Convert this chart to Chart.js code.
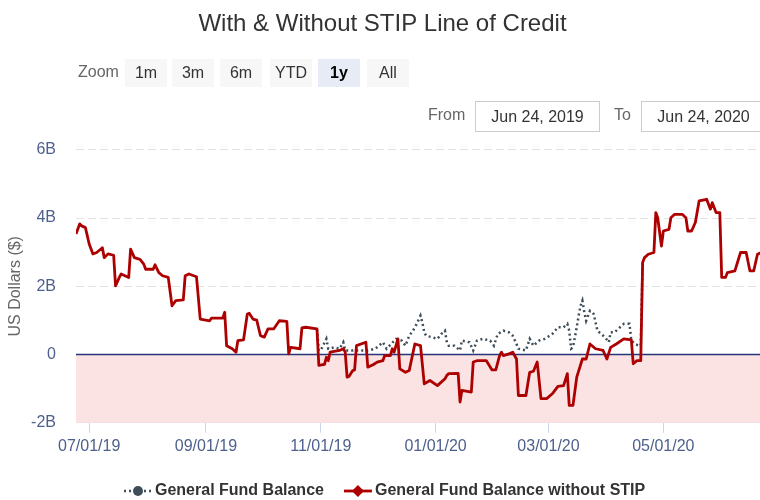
<!DOCTYPE html>
<html>
<head>
<meta charset="utf-8">
<script src="https://cdn.jsdelivr.net/npm/chart.js@4.4.1/dist/chart.umd.min.js"></script>
<style>
  html, body { margin: 0; padding: 0; overflow: hidden; background: #fff; }
  body { width: 760px; height: 500px; position: relative; font-family: 'Liberation Sans', Arial, sans-serif; }
  #wrap { position: absolute; left: 0; top: 0; width: 772px; height: 500px; }
  .lbl { position: absolute; font-size: 16px; color: #666; line-height: 20px; }
  .btn { position: absolute; top: 59px; width: 42px; height: 28px; line-height: 28px; text-align: center;
         font-size: 16px; color: #333; background: #f7f7f7; }
  .btn.on { background: #e6ebf5; color: #000; font-weight: bold; }
  .box { position: absolute; top: 101px; width: 123px; height: 29px; line-height: 29px; text-align: center;
         font-size: 16px; color: #333; border: 1px solid #ccc; background: #fff; }
</style>
</head>
<body>
<div id="wrap"><canvas id="chart"></canvas></div>
<div class="lbl" style="left:78px; top:62px;">Zoom</div>
<div class="btn" style="left:125px;">1m</div>
<div class="btn" style="left:172px;">3m</div>
<div class="btn" style="left:220px;">6m</div>
<div class="btn" style="left:270px;">YTD</div>
<div class="btn on" style="left:318px;">1y</div>
<div class="btn" style="left:367px;">All</div>
<div class="lbl" style="left:428px; top:105px;">From</div>
<div class="box" style="left:475px;">Jun 24, 2019</div>
<div class="lbl" style="left:614px; top:105px;">To</div>
<div class="box" style="left:641px;">Jun 24, 2020</div>
<script>
// General Fund Balance without STIP (billions of dollars)
const stipDates = [
  '2019-06-24','2019-06-26','2019-06-27','2019-06-29','2019-07-01','2019-07-03','2019-07-05','2019-07-08',
  '2019-07-09','2019-07-11','2019-07-14','2019-07-15','2019-07-17','2019-07-18','2019-07-22','2019-07-23',
  '2019-07-25','2019-07-28','2019-07-30','2019-07-31','2019-08-04','2019-08-05','2019-08-07','2019-08-09',
  '2019-08-12','2019-08-14','2019-08-16','2019-08-20','2019-08-21','2019-08-23','2019-08-27','2019-08-29',
  '2019-09-03','2019-09-04','2019-09-10','2019-09-11','2019-09-12','2019-09-15','2019-09-17','2019-09-18',
  '2019-09-21','2019-09-23','2019-09-24','2019-09-26','2019-09-28','2019-09-30','2019-10-02','2019-10-04',
  '2019-10-07','2019-10-10','2019-10-14','2019-10-15','2019-10-16','2019-10-21','2019-10-22','2019-10-24',
  '2019-10-30','2019-10-31','2019-11-03','2019-11-04','2019-11-05','2019-11-06','2019-11-11','2019-11-13',
  '2019-11-14','2019-11-15','2019-11-16','2019-11-18','2019-11-19','2019-11-20','2019-11-25','2019-11-26',
  '2019-11-29','2019-12-01','2019-12-04','2019-12-05','2019-12-08','2019-12-09','2019-12-10','2019-12-12',
  '2019-12-13','2019-12-16','2019-12-18','2019-12-21','2019-12-24','2019-12-26','2019-12-29','2020-01-02',
  '2020-01-03','2020-01-06','2020-01-07','2020-01-08','2020-01-13','2020-01-14','2020-01-15','2020-01-20',
  '2020-01-21','2020-01-23','2020-01-28','2020-01-31','2020-02-02','2020-02-04','2020-02-05','2020-02-06',
  '2020-02-09','2020-02-11','2020-02-13','2020-02-14','2020-02-18','2020-02-20','2020-02-22','2020-02-24',
  '2020-02-26','2020-02-29','2020-03-03','2020-03-06','2020-03-09','2020-03-11','2020-03-12','2020-03-14',
  '2020-03-16','2020-03-19','2020-03-21','2020-03-23','2020-03-26','2020-03-30','2020-04-01','2020-04-03',
  '2020-04-06','2020-04-10','2020-04-14','2020-04-15','2020-04-17','2020-04-19','2020-04-20','2020-04-21',
  '2020-04-23','2020-04-26','2020-04-27','2020-04-28','2020-04-30','2020-05-01','2020-05-04','2020-05-05',
  '2020-05-07','2020-05-11','2020-05-13','2020-05-14','2020-05-16','2020-05-18','2020-05-20','2020-05-24',
  '2020-05-26','2020-05-27','2020-05-29','2020-05-31','2020-06-01','2020-06-03','2020-06-04','2020-06-08',
  '2020-06-11','2020-06-14','2020-06-16','2020-06-18','2020-06-20','2020-06-22','2020-06-24'
];
const stipValues = [
  3.53, 3.83, 3.77, 3.72, 3.24, 2.95, 2.99, 3.13,
  2.84, 2.95, 2.91, 2.01, 2.26, 2.36, 2.26, 3.09,
  2.84, 2.79, 2.65, 2.50, 2.50, 2.63, 2.40, 2.31,
  2.26, 1.43, 1.58, 1.60, 2.31, 2.36, 2.28, 1.04,
  0.99, 1.07, 1.07, 1.24, 0.26, 0.17, 0.07, 0.41,
  0.43, 1.19, 1.21, 1.04, 1.01, 0.55, 0.51, 0.75,
  0.75, 0.99, 0.97, 0.02, 0.21, 0.17, 0.78, 0.80,
  0.75, -0.32, -0.29, -0.08, -0.18, 0.07, 0.12, 0.17,
  0.07, -0.66, -0.64, -0.47, -0.45, 0.26, 0.36, -0.37,
  -0.29, -0.22, -0.18, -0.03, -0.03, 0.17, 0.07, 0.46,
  -0.42, -0.52, -0.47, 0.31, 0.26, -0.86, -0.76, -0.91,
  -0.86, -0.71, -0.61, -0.56, -0.55, -1.39, -1.05, -1.10,
  -0.22, -0.18, -0.18, -0.45, -0.45, -0.03, 0.07, -0.03,
  0.02, 0.07, -0.13, -1.20, -1.20, -0.52, -0.49, -0.22,
  -1.29, -1.29, -1.15, -0.93, -0.91, -0.56, -1.49, -1.49,
  -0.66, -0.13, -0.13, 0.31, 0.17, 0.12, -0.13, 0.21,
  0.31, 0.46, 0.43, -0.27, -0.18, -0.18, 2.70, 2.84,
  2.94, 2.99, 4.16, 4.01, 3.18, 3.62, 3.67, 4.01,
  4.11, 4.11, 4.01, 3.62, 3.62, 3.87, 4.50, 4.55,
  4.26, 4.45, 4.16, 4.16, 2.26, 2.26, 2.40, 2.45,
  2.99, 2.99, 2.45, 2.45, 2.94, 2.99, 2.99
];

// General Fund Balance (only where it differs from the series above)
const gfDates = [
  '2019-10-30','2019-10-31','2019-11-01','2019-11-04','2019-11-05','2019-11-08','2019-11-11','2019-11-13',
  '2019-11-14','2019-11-26','2019-11-30','2019-12-04','2019-12-06','2019-12-11','2019-12-14','2019-12-16',
  '2019-12-18','2019-12-20','2019-12-22','2019-12-24','2019-12-25','2019-12-26','2019-12-27','2019-12-30',
  '2020-01-02','2020-01-04','2020-01-06','2020-01-07','2020-01-08','2020-01-11','2020-01-14','2020-01-15',
  '2020-01-19','2020-01-21','2020-01-23','2020-01-26','2020-01-30','2020-02-01','2020-02-03','2020-02-06',
  '2020-02-09','2020-02-11','2020-02-13','2020-02-14','2020-02-18','2020-02-20','2020-02-22','2020-02-25',
  '2020-02-28','2020-03-03','2020-03-06','2020-03-09','2020-03-11','2020-03-12','2020-03-13','2020-03-14',
  '2020-03-16','2020-03-17','2020-03-18','2020-03-19','2020-03-20','2020-03-21','2020-03-23','2020-03-25',
  '2020-03-27','2020-03-29','2020-03-31','2020-04-02','2020-04-03','2020-04-05','2020-04-08','2020-04-10',
  '2020-04-13','2020-04-14','2020-04-16','2020-04-18','2020-04-19','2020-04-20'
];
const gfValues = [
  0.75, 0.12, 0.12, 0.46, 0.17, 0.21, 0.17, 0.36,
  0.12, 0.12, 0.17, 0.36, 0.17, 0.46, 0.41, 0.26,
  0.55, 0.70, 0.90, 1.14, 0.94, 0.65, 0.55, 0.51,
  0.46, 0.60, 0.70, 0.36, 0.26, 0.26, 0.12, 0.41,
  0.36, 0.12, 0.41, 0.46, 0.41, 0.26, 0.60, 0.70,
  0.65, 0.55, 0.31, 0.17, 0.12, 0.46, 0.26, 0.41,
  0.46, 0.60, 0.80, 0.80, 0.90, 0.70, 0.17, 0.21,
  0.80, 1.14, 1.43, 1.58, 1.24, 0.99, 1.28, 1.19,
  0.70, 0.60, 0.51, 0.36, 0.65, 0.65, 0.80, 0.90,
  0.90, 0.41, 0.31, 0.26, 0.26, 2.70
];

const tickDates = ['2019-07-01', '2019-09-01', '2019-11-01', '2020-01-01', '2020-03-01', '2020-05-01'];
const tickLabels = ['07/01/19', '09/01/19', '11/01/19', '01/01/20', '03/01/20', '05/01/20'];

const startDate = '2019-06-24';
const endDate = '2020-06-24';

function dayNum(s) {
    const [y, m, d] = s.split('-').map(Number);
    const [y0, m0, d0] = startDate.split('-').map(Number);
    return (Date.UTC(y, m - 1, d) - Date.UTC(y0, m0 - 1, d0)) / 864e5;
}

const toPoints = (dates, values) => dates.map((d, i) => ({ x: dayNum(d), y: values[i] }));

const font = "'Liberation Sans', Arial, sans-serif";
Chart.defaults.font.family = font;

const gfColor = '#3d4d59';
const stipColor = '#ad0000';

// pink band below zero plus the zero line
const bandPlugin = {
    id: 'band',
    beforeDatasetsDraw(chart) {
        const { ctx, chartArea } = chart;
        const y = chart.scales.y;
        const top = y.getPixelForValue(0);
        const bottom = y.getPixelForValue(-2);
        ctx.save();
        ctx.fillStyle = '#fce3e3';
        ctx.fillRect(chartArea.left, top, chartArea.right - chartArea.left, bottom - top);
        ctx.strokeStyle = '#26367a';
        ctx.lineWidth = 1.5;
        ctx.beginPath();
        ctx.moveTo(chartArea.left, top);
        ctx.lineTo(chartArea.right, top);
        ctx.stroke();
        ctx.restore();
    }
};

// legend with a line + marker symbol, like the original
const legendPlugin = {
    id: 'lineLegend',
    afterDraw(chart) {
        const ctx = chart.ctx;
        const y = 491;
        ctx.save();
        ctx.font = 'bold 16px ' + font;
        ctx.textBaseline = 'middle';
        const items = chart.data.datasets;
        const widths = items.map(ds => ctx.measureText(ds.label).width);
        let x = 124;
        items.forEach((ds, i) => {
            ctx.strokeStyle = ds.borderColor;
            ctx.lineWidth = ds.borderWidth;
            ctx.setLineDash(ds.borderDash || []);
            ctx.beginPath();
            ctx.moveTo(x, y);
            ctx.lineTo(x + 28, y);
            ctx.stroke();
            ctx.setLineDash([]);
            ctx.fillStyle = ds.borderColor;
            ctx.beginPath();
            if (ds.legendMarker === 'diamond') {
                ctx.moveTo(x + 14, y - 6);
                ctx.lineTo(x + 20, y);
                ctx.lineTo(x + 14, y + 6);
                ctx.lineTo(x + 8, y);
                ctx.closePath();
            } else {
                ctx.arc(x + 14, y, 5, 0, Math.PI * 2);
            }
            ctx.fill();
            ctx.fillStyle = '#333333';
            ctx.fillText(ds.label, x + 31, y);
            x += 31 + widths[i] + 20;
        });
        ctx.restore();
    }
};

new Chart(document.getElementById('chart'), {
    type: 'line',
    data: {
        datasets: [{
            label: 'General Fund Balance',
            data: toPoints(gfDates, gfValues),
            borderColor: gfColor,
            borderWidth: 2.5,
            borderDash: [2, 3],
            pointRadius: 0,
            tension: 0,
            order: 1,
            legendMarker: 'circle'
        }, {
            label: 'General Fund Balance without STIP',
            data: toPoints(stipDates, stipValues),
            borderColor: stipColor,
            borderWidth: 2.8,
            borderJoinStyle: 'round',
            pointRadius: 0,
            tension: 0,
            order: 0,
            legendMarker: 'diamond'
        }]
    },
    options: {
        responsive: true,
        maintainAspectRatio: false,
        animation: false,
        layout: { padding: { left: 0, right: 7, top: 0, bottom: 40 } },
        plugins: {
            legend: { display: false },
            tooltip: { enabled: false },
            title: {
                display: true,
                text: 'With & Without STIP Line of Credit',
                color: '#333333',
                font: { size: 24, weight: 'normal' },
                padding: { top: 10, bottom: 111 }
            }
        },
        scales: {
            x: {
                type: 'linear',
                min: dayNum(startDate),
                max: dayNum(endDate),
                afterBuildTicks: scale => {
                    scale.ticks = tickDates.map(d => ({ value: dayNum(d) }));
                },
                ticks: {
                    autoSkip: false,
                    maxRotation: 0,
                    padding: 4,
                    color: '#4d5f8c',
                    font: { size: 16 },
                    callback: (v, i) => tickLabels[i]
                },
                grid: { drawOnChartArea: false, drawTicks: true, tickLength: 10, color: '#ccd6eb' },
                border: { display: true, color: '#ccd6eb' }
            },
            y: {
                min: -2,
                max: 6,
                afterFit: scale => { scale.width = 76; },
                ticks: {
                    stepSize: 2,
                    padding: 20,
                    color: '#4d5f8c',
                    font: { size: 16 },
                    callback: v => v === 0 ? '0' : v + 'B'
                },
                grid: {
                    drawTicks: false,
                    color: c => c.tick && c.tick.value > 0 ? '#e3e3e3' : 'rgba(0,0,0,0)'
                },
                border: { display: false, dash: [8, 4] },
                title: {
                    display: true,
                    text: 'US Dollars ($)',
                    color: '#666666',
                    font: { size: 16 },
                    padding: { top: 6, bottom: 0 }
                }
            }
        }
    },
    plugins: [bandPlugin, legendPlugin]
});
</script>
</body>
</html>
